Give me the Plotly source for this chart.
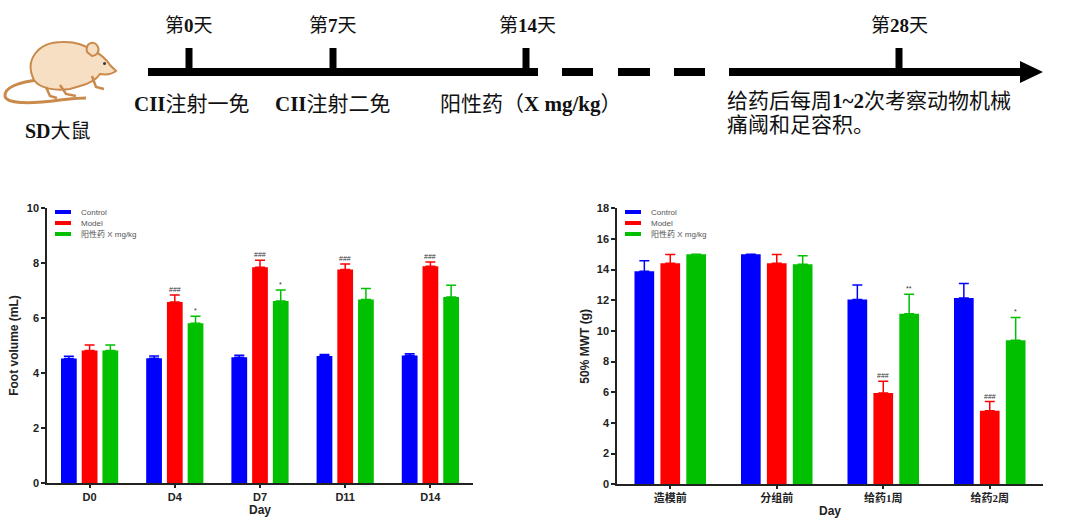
import plotly.graph_objects as go

W, H = 1080, 529

# foot volume data (left chart)
days = ["D0", "D4", "D7", "D11", "D14"]
fv_control = [4.53, 4.54, 4.57, 4.62, 4.64]
fv_control_err = [0.08, 0.08, 0.08, 0.05, 0.06]
fv_model = [4.82, 6.58, 7.85, 7.76, 7.88]
fv_model_err = [0.20, 0.26, 0.25, 0.20, 0.16]
fv_pos = [4.82, 5.81, 6.62, 6.67, 6.76]
fv_pos_err = [0.20, 0.25, 0.40, 0.40, 0.43]
fv_model_sig = ["", "###", "###", "###", "###"]
fv_pos_sig = ["", "*", "*", "", ""]

# 50% MWT data (right chart)
stages = ["造模前", "分组前", "给药1周", "给药2周"]
mwt_control = [13.90, 15.00, 12.05, 12.15]
mwt_control_err = [0.68, 0.0, 0.94, 0.95]
mwt_model = [14.42, 14.42, 5.96, 4.80]
mwt_model_err = [0.57, 0.57, 0.76, 0.60]
mwt_pos = [15.00, 14.35, 11.13, 9.40]
mwt_pos_err = [0.0, 0.56, 1.26, 1.48]
mwt_model_sig = ["", "", "###", "###"]
mwt_pos_sig = ["", "", "**", "*"]

names = ["Control", "Model", "阳性药 X mg/kg"]
colors = ["#0000FF", "#FF0000", "#00C000"]

BARGAP = 0.27
GROUPGAP = 0.24
SANS = "Liberation Sans, Arial, Noto Sans CJK SC"
SERIF = "Liberation Serif, Noto Sans CJK SC"


def px(x):
    return x / W


def py(y):
    return 1 - y / H


def ppath(s):
    out = []
    for tok in s.split():
        if "," in tok:
            a, b = tok.split(",")
            out.append("%.5f,%.5f" % (px(float(a)), py(float(b))))
        else:
            out.append(tok)
    return " ".join(out)


fig = go.Figure()

charts = [
    ("x", "y", days, [(fv_control, fv_control_err), (fv_model, fv_model_err), (fv_pos, fv_pos_err)],
     [None, fv_model_sig, fv_pos_sig], (47, 473)),
    ("x2", "y2", stages, [(mwt_control, mwt_control_err), (mwt_model, mwt_model_err), (mwt_pos, mwt_pos_err)],
     [None, mwt_model_sig, mwt_pos_sig], (617, 1043)),
]

annotations = []
shapes = []

for xa, ya, cats, series, sigs, (left, right) in charts:
    slot = (right - left) / len(cats) * (1 - BARGAP) / 3
    for i, (vals, errs) in enumerate(series):
        fig.add_trace(go.Bar(
            x=cats, y=vals, name=names[i], xaxis=xa, yaxis=ya,
            marker=dict(color=colors[i], line=dict(width=0)),
            error_y=dict(type="data", symmetric=False, array=errs, arrayminus=[0] * len(errs),
                         color=colors[i], thickness=1.5, width=5),
            showlegend=False,
        ))
        if sigs[i]:
            for c, v, e, s in zip(cats, vals, errs, sigs[i]):
                if s:
                    annotations.append(dict(
                        x=c, y=v + e, xref=xa, yref=ya, text=s, showarrow=False,
                        xshift=(i - 1) * slot, yshift=0, yanchor="bottom",
                        font=dict(size=7, color="#333", family=SANS)))
    # hand-made legend
    for i, n in enumerate(names):
        yy = 212 + 11 * i
        shapes.append(dict(type="line", xref="paper", yref="paper",
                           x0=px(left + 8), x1=px(left + 24), y0=py(yy), y1=py(yy),
                           line=dict(color=colors[i], width=4)))
        annotations.append(dict(x=px(left + 32), y=py(yy), xref="paper", yref="paper",
                                text=n, showarrow=False, xanchor="left", yanchor="middle",
                                font=dict(size=8, color="#555", family=SANS)))

axis_common = dict(showline=True, linecolor="#222", linewidth=1.5, ticks="outside",
                   tickcolor="#222", tickwidth=1.5, showgrid=False, zeroline=False, automargin=False,
                   tickfont=dict(size=11, family=SANS, color="#222", weight="bold"))
title_font = dict(size=12, family=SANS, color="#222", weight="bold")

fig.update_layout(
    width=W, height=H,
    margin=dict(l=0, r=0, t=0, b=0),
    paper_bgcolor="white", plot_bgcolor="white",
    barmode="group", bargap=BARGAP, bargroupgap=GROUPGAP,
    xaxis=dict(domain=[px(47), px(473)], anchor="y", ticklen=3,
               title=dict(text="Day", font=title_font, standoff=3),
               **axis_common),
    yaxis=dict(domain=[py(483), py(208)], anchor="x", range=[0, 10], dtick=2, ticklen=4,
               title=dict(text="Foot volume (mL)", font=title_font, standoff=6),
               **axis_common),
    xaxis2=dict(domain=[px(617), px(1043)], anchor="y2", ticklen=3,
                title=dict(text="Day", font=title_font, standoff=3),
                **{**axis_common, "tickfont": dict(size=11, family=SERIF, color="#222", weight="bold")}),
    yaxis2=dict(domain=[py(484.3), py(208.3)], anchor="x2", range=[0, 18], dtick=2, ticklen=4,
                title=dict(text="50% MWT (g)", font=title_font, standoff=5),
                **axis_common),
)

# timeline
for x0, x1 in [(148, 538), (562, 593), (618, 650), (674, 705), (729, 1022)]:
    shapes.append(dict(type="rect", xref="paper", yref="paper", x0=px(x0), x1=px(x1),
                       y0=py(76), y1=py(68), fillcolor="black", line=dict(width=0)))
for tx in [189, 333, 526, 899]:
    shapes.append(dict(type="rect", xref="paper", yref="paper", x0=px(tx - 3.5), x1=px(tx + 3.5),
                       y0=py(72), y1=py(48), fillcolor="black", line=dict(width=0)))
shapes.append(dict(type="path", xref="paper", yref="paper", path=ppath("M 1020,61 L 1043,72 L 1020,83 Z"),
                   fillcolor="black", line=dict(width=0)))

# rat
brown = "#C98A4B"
shapes.append(dict(type="path", xref="paper", yref="paper",
                   path=ppath("M 38,80 C 18,82 4,88 5,96 C 6,104 30,104 60,100 C 70,99 78,98 86,98"),
                   line=dict(color=brown, width=3)))
shapes.append(dict(type="path", xref="paper", yref="paper",
                   path=ppath("M 34,80 C 24,60 38,42 62,42 C 78,41 88,47 94,51 C 100,54 106,59 110,65 "
                              "L 116,71 C 112,74 106,75 100,74 C 96,80 88,84 80,86 L 70,89 "
                              "C 56,91 40,89 34,80 Z"),
                   fillcolor="#F7DFC4", line=dict(color=brown, width=2)))
shapes.append(dict(type="path", xref="paper", yref="paper",
                   path=ppath("M 87,52 C 85,42 95,40 98,47 C 100,52 96,56 92,56 Z"),
                   fillcolor="#F7DFC4", line=dict(color=brown, width=2)))
for leg in ["M 92,76 L 96,87 L 104,89", "M 60,85 L 66,94 L 76,96", "M 46,87 L 50,96 L 57,98"]:
    shapes.append(dict(type="path", xref="paper", yref="paper", path=ppath(leg),
                       line=dict(color=brown, width=2.5)))
shapes.append(dict(type="circle", xref="paper", yref="paper", x0=px(103), x1=px(106), y0=py(65), y1=py(62),
                   fillcolor="#333", line=dict(width=0)))

tl_text = [
    ("第<b>0</b>天", 189, 25, "center", 19),
    ("第<b>7</b>天", 333, 25, "center", 19),
    ("第<b>14</b>天", 527, 25, "center", 19),
    ("第<b>28</b>天", 899, 25, "center", 19),
    ("<b>CII</b>注射一免", 132, 104, "left", 21),
    ("<b>CII</b>注射二免", 273, 104, "left", 21),
    ("阳性药（<b>X mg/kg</b>）", 438, 104, "left", 21),
    ("给药后每周<b>1~2</b>次考察动物机械", 725, 101, "left", 21),
    ("痛阈和足容积。", 725, 125, "left", 21),
    ("<b>SD</b>大鼠", 58, 131, "center", 20),
]
for t, x, y, anc, sz in tl_text:
    annotations.append(dict(x=px(x), y=py(y), xref="paper", yref="paper", text=t, showarrow=False,
                            xanchor=anc, yanchor="middle", font=dict(size=sz, family=SERIF, color="#111")))

fig.update_layout(shapes=shapes, annotations=annotations)

fig.write_html("out.html", config={"displayModeBar": False},
               post_script="document.body.style.margin='0px';")
